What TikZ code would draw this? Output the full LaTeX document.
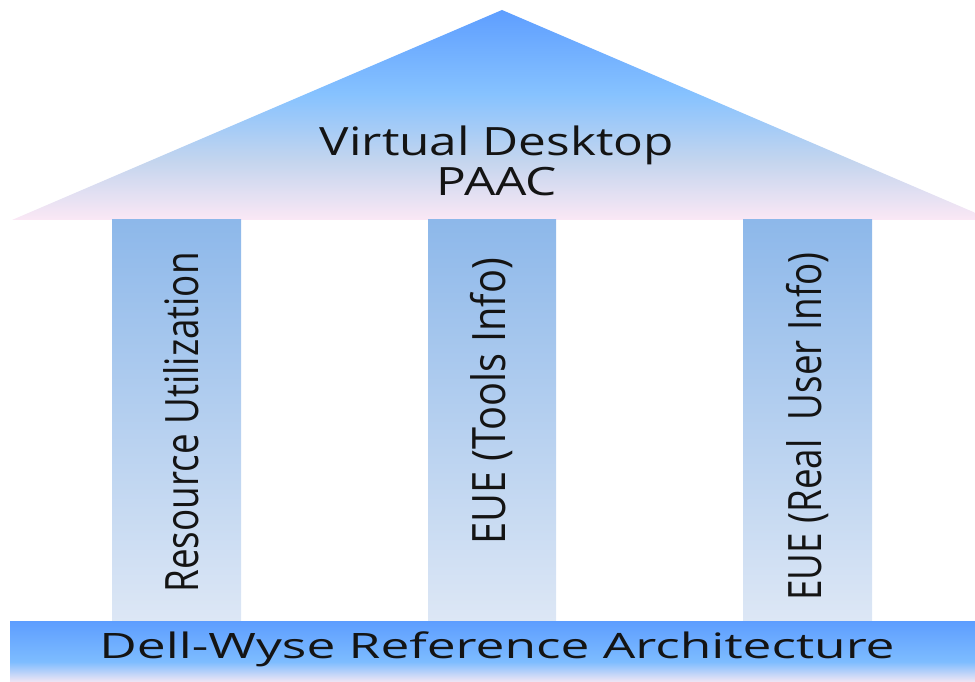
\documentclass[tikz,border=0pt]{standalone}
\usepackage{fontspec}
\setmainfont{Open Sans}
\usepackage{xcolor}
\usetikzlibrary{positioning}
\definecolor{roofblue}{HTML}{5E9EFF}
\definecolor{roofsky}{HTML}{86C2FF}
\definecolor{roofgrey}{HTML}{C4D5EE}
\definecolor{roofpink}{HTML}{FBE8F5}
\definecolor{pillartop}{HTML}{8DB8EA}
\definecolor{pillarbot}{HTML}{DDE7F5}
\definecolor{basemid}{HTML}{7DBCFF}
\definecolor{basebot}{HTML}{F1E6F4}
% roof runs blue -> sky -> grey -> pink (path box = 25bp..75bp)
\pgfdeclareverticalshading{roofshade}{100bp}{color(0bp)=(roofpink); color(25bp)=(roofpink);
  color(39bp)=(roofgrey); color(55bp)=(roofsky); color(75bp)=(roofblue); color(100bp)=(roofblue)}
\pgfdeclareverticalshading{baseshade}{100bp}{color(0bp)=(basebot); color(25bp)=(basebot);
  color(42bp)=(basemid); color(75bp)=(roofblue); color(100bp)=(roofblue)}
\tikzset{
  pillar/.style={top color=pillartop,bottom color=pillarbot,draw=none},
  pillarlabel/.style={rotate=90,anchor=east,inner sep=0pt,font=\fontsize{46}{50}\selectfont,
                      text=black!92,xscale=0.8},
  rooflabel/.style={align=center,inner sep=0pt,font=\fontsize{39}{44}\selectfont,text=black!92,
                    xscale=1.27},
  baselabel/.style={inner sep=0pt,font=\fontsize{35}{40}\selectfont,text=black!92,xscale=1.47}
}

\begin{document}
\begin{tikzpicture}[x=1pt,y=1pt]
  \useasboundingbox (0,0) rectangle (975,682);
  \clip (0,0) rectangle (975,682);

  % Roof of the temple.
  \shade[shading=roofshade] (12,462) -- (502,672) -- (992,462) -- cycle;
  \node[rooflabel] (roof) at (497,521) {Virtual Desktop\\[-4pt]PAAC};

  % Three pillars.
  \shade[pillar] (112,60) rectangle (241,462);
  \shade[pillar] (428,60) rectangle (556,462);
  \shade[pillar] (743,60) rectangle (872,462);
  \node[pillarlabel] (res) at (181,430) {Resource Utilization};
  \node[pillarlabel,xscale=1.08] (tools) at (492,424) {EUE (Tools Info)};
  \node[pillarlabel] (real) at (808,430) {EUE (Real~ User Info)};

  % Base platform.
  \shade[shading=baseshade] (10,0) rectangle (990,60);
  \node[baselabel] (base) at (497,33) {Dell-Wyse Reference Architecture};
\end{tikzpicture}
\end{document}
